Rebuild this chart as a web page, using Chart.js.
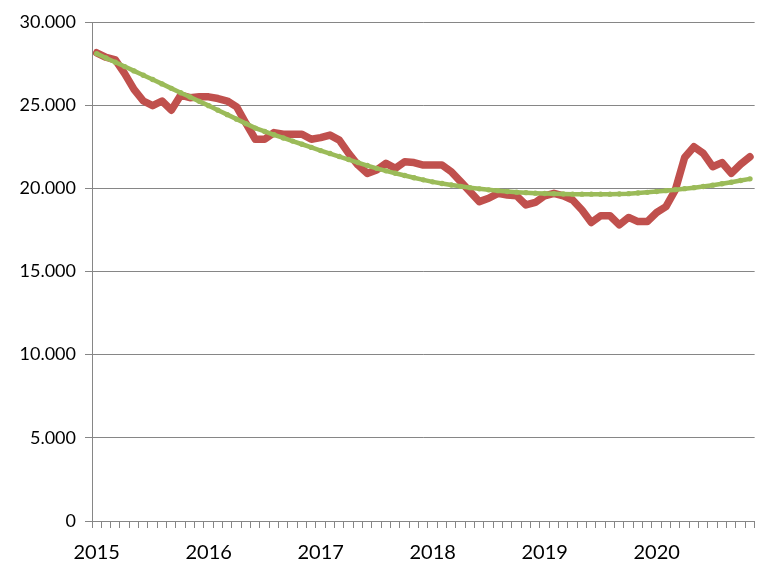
<!DOCTYPE html>
<html>
<head>
<meta charset="utf-8">
<script src="https://cdn.jsdelivr.net/npm/chart.js@4.4.1/dist/chart.umd.min.js"></script>
<style>
  html, body { margin: 0; padding: 0; background: #fff; overflow: hidden; }
  #marco { width: 757px; height: 563px; overflow: hidden; }
  #grafico { display: block; }
</style>
</head>
<body>
<div id="marco"><canvas id="grafico" width="763" height="563"></canvas></div>
<script>
// Serie mensual ene-2015 .. nov-2020
const anios = [2015, 2016, 2017, 2018, 2019, 2020];

const valores = [
  28150, 27880, 27720, 26900, 25950, 25250, 24970, 25250, 24700, 25600, 25450, 25500,
  25500, 25400, 25250, 24900, 23900, 22950, 22950, 23350, 23250, 23250, 23250, 22950,
  23050, 23200, 22900, 22100, 21400, 20900, 21100, 21500, 21200, 21600, 21550, 21400,
  21400, 21400, 21000, 20400, 19800, 19200, 19400, 19700, 19600, 19550, 19000, 19150,
  19550, 19700, 19550, 19300, 18700, 17950, 18350, 18350, 17800, 18250, 18000, 18000,
  18550, 18900, 19900, 21850, 22500, 22100, 21300, 21550, 20900, 21450, 21900
];

const tendencia = [
  28100, 27840, 27580, 27320, 27060, 26800, 26540, 26280, 26010, 25750, 25490, 25230,
  24970, 24700, 24430, 24160, 23890, 23620, 23420, 23220, 23030, 22840, 22650, 22460,
  22270, 22090, 21910, 21730, 21550, 21370, 21200, 21050, 20910, 20770, 20640, 20510,
  20390, 20290, 20200, 20120, 20040, 19970, 19910, 19860, 19810, 19770, 19740, 19710,
  19690, 19670, 19660, 19650, 19650, 19650, 19650, 19650, 19660, 19680, 19720, 19760,
  19810, 19860, 19920, 19980, 20040, 20110, 20190, 20280, 20370, 20470, 20570
];

const ticksY = [0, 5000, 10000, 15000, 20000, 25000, 30000];

// etiquetas "AAAA-MM" para cada mes
const meses = [];
anios.forEach(a => {
  for (let m = 1; m <= 12; m++) meses.push(a + '-' + String(m).padStart(2, '0'));
});
const categorias = meses.slice(0, valores.length);

function miles(v) {
  return String(v).replace(/\B(?=(\d{3})+(?!\d))/g, '.');
}

const gris = '#868686';

const ctx = document.getElementById('grafico').getContext('2d');
const grafico = new Chart(ctx, {
  type: 'line',
  data: {
    labels: categorias,
    datasets: [{
      label: 'Tendencia',
      data: tendencia,
      borderColor: '#9BBB59',
      backgroundColor: '#9BBB59',
      borderWidth: 4.5,
      pointRadius: 2.7,
      pointBorderWidth: 0,
      pointBackgroundColor: '#9BBB59'
    }, {
      label: 'Valor',
      data: valores,
      borderColor: '#C0504D',
      borderWidth: 7.5,
      borderJoinStyle: 'round',
      borderCapStyle: 'round',
      pointRadius: 0
    }]
  },
  options: {
    responsive: false,
    animation: false,
    layout: { padding: { top: 22, left: 0, right: 0, bottom: 0 } },
    plugins: {
      legend: { display: false },
      tooltip: { enabled: false }
    },
    scales: {
      x: {
        offset: true,
        grid: {
          offset: true,
          drawOnChartArea: false,
          drawTicks: true,
          tickLength: 7,
          color: gris
        },
        border: { color: gris },
        ticks: {
          autoSkip: false,
          maxRotation: 0,
          padding: 13,
          color: '#000',
          font: { family: 'Lato', size: 20 },
          callback: function(val, i) {
            const c = categorias[i];
            return c.endsWith('-01') ? c.slice(0, 4) : '';
          }
        },
        afterFit: function(scale) { scale.height = 42; }
      },
      y: {
        min: 0,
        max: 30000,
        afterBuildTicks: function(scale) {
          scale.ticks = ticksY.map(v => ({ value: v }));
        },
        grid: {
          color: gris,
          drawTicks: true,
          tickLength: 7
        },
        border: { color: gris },
        ticks: {
          padding: 9,
          color: '#000',
          font: { family: 'Lato', size: 18 },
          callback: function(v) { return miles(v); }
        },
        afterFit: function(scale) { scale.width = 92; }
      }
    }
  }
});
</script>
</body>
</html>
